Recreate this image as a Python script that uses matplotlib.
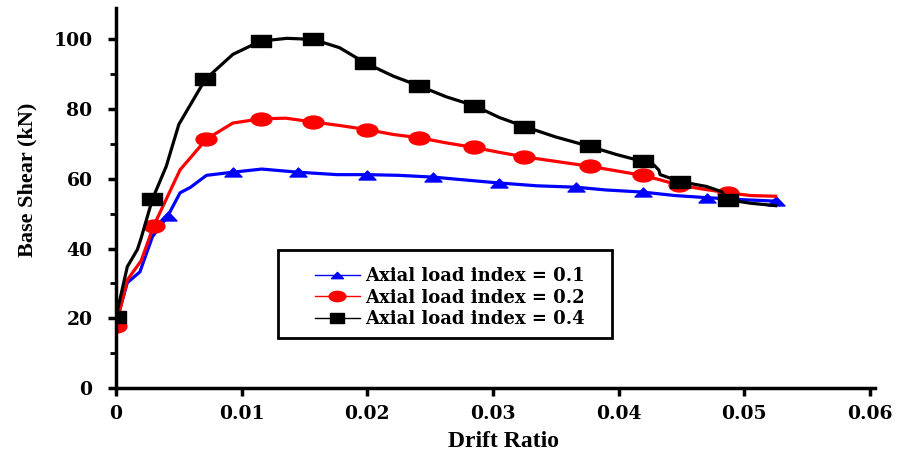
import matplotlib
matplotlib.use('Agg')
import matplotlib.pyplot as plt
from matplotlib.ticker import MultipleLocator
from matplotlib.patches import Rectangle
from matplotlib.path import Path

# axial load index = 0.1
x1 = [0, 0.0009, 0.0019, 0.0029, 0.0041, 0.0051, 0.0059, 0.0072, 0.0093, 0.0116,
      0.0145, 0.0176, 0.0200, 0.0225, 0.0252, 0.0280, 0.0305, 0.0335, 0.0366,
      0.0390, 0.0419, 0.0445, 0.0470, 0.0500, 0.0525]
y1 = [18.7, 30.2, 33.3, 43.4, 49.2, 56.0, 57.5, 61.0, 61.9, 62.8,
      61.9, 61.2, 61.2, 61.0, 60.5, 59.6, 58.8, 58.0, 57.6,
      56.8, 56.2, 55.2, 54.6, 54.0, 53.6]
m1 = [0, 4, 8, 10, 12, 14, 16, 18, 20, 22, 24]

# axial load index = 0.2
x2 = [0, 0.0009, 0.0020, 0.0030, 0.0051, 0.0072, 0.0093, 0.0115, 0.0135, 0.0157,
      0.0178, 0.0200, 0.0221, 0.0241, 0.0263, 0.0285, 0.0305, 0.0325, 0.0350,
      0.0377, 0.0398, 0.0419, 0.0432, 0.0448, 0.0468, 0.0487, 0.0505, 0.0525]
y2 = [17.8, 31.0, 36.5, 46.5, 62.6, 71.4, 76.0, 77.2, 77.4, 76.3,
      75.3, 74.1, 72.7, 71.8, 70.3, 69.0, 67.6, 66.3, 65.0,
      63.6, 62.3, 61.0, 59.8, 58.2, 57.0, 56.0, 55.2, 55.0]
m2 = [0, 3, 5, 7, 9, 11, 13, 15, 17, 19, 21, 23, 25]

# axial load index = 0.4
x3 = [0, 0.0009, 0.0017, 0.0020, 0.0029, 0.0040, 0.0050, 0.0071, 0.0093, 0.0115,
      0.0136, 0.0157, 0.0178, 0.0198, 0.0221, 0.0241, 0.0263, 0.0285, 0.0305,
      0.0325, 0.0350, 0.0377, 0.0398, 0.0419, 0.0428, 0.0432, 0.0433, 0.0449,
      0.0470, 0.0482, 0.0487, 0.0505, 0.0525]
y3 = [20.4, 34.8, 39.7, 43.0, 54.2, 63.6, 75.6, 88.5, 95.7, 99.5,
      100.3, 100.0, 97.6, 93.3, 89.4, 86.7, 83.5, 81.0, 77.6,
      75.0, 72.0, 69.3, 67.0, 65.0, 64.0, 62.5, 61.2, 59.2,
      57.8, 56.3, 54.0, 53.0, 52.3]
m3 = [0, 4, 7, 9, 11, 13, 15, 17, 19, 21, 23, 27, 30]

labels = ['Axial load index = 0.1', 'Axial load index = 0.2', 'Axial load index = 0.4']
xticks = [0, 0.01, 0.02, 0.03, 0.04, 0.05, 0.06]
xticklabels = ['0', '0.01', '0.02', '0.03', '0.04', '0.05', '0.06']

# markers in the original are squashed (wider than tall)
tri = Path([(-1, -0.53), (1, -0.53), (0, 0.53), (-1, -0.53)],
           [Path.MOVETO, Path.LINETO, Path.LINETO, Path.CLOSEPOLY])
circ = Path.unit_circle()
ell = Path(circ.vertices * [1, 0.62], circ.codes)
rect = Path([(-1, -0.66), (1, -0.66), (1, 0.66), (-1, 0.66), (-1, -0.66)],
            [Path.MOVETO, Path.LINETO, Path.LINETO, Path.LINETO, Path.CLOSEPOLY])

fig = plt.figure(figsize=(9.05, 4.57), dpi=100)
ax = fig.add_axes([116/905, 1-388/457, (875-116)/905, (388-8)/457])

ax.plot(x1, y1, color='blue', lw=2.3, marker=tri, ms=12.2, markevery=m1, label=labels[0])
ax.plot(x2, y2, color='red', lw=2.3, marker=ell, ms=15, markevery=m2, label=labels[1])
ax.plot(x3, y3, color='black', lw=2.3, marker=rect, ms=13.7, markevery=m3, label=labels[2])

ax.set_xlim(0, 0.0604)
ax.set_ylim(0, 109)
ax.set_xticks(xticks)
ax.set_xticklabels(xticklabels)
ax.yaxis.set_major_locator(MultipleLocator(20))
ax.yaxis.set_minor_locator(MultipleLocator(10))

ax.spines['top'].set_visible(False)
ax.spines['right'].set_visible(False)
ax.spines['left'].set_linewidth(2.5)
ax.spines['bottom'].set_linewidth(2.5)
ax.tick_params(axis='both', which='major', direction='out', length=6, width=2.5)
ax.tick_params(axis='y', which='major', pad=11)
ax.tick_params(axis='x', which='major', pad=6)
ax.tick_params(axis='y', which='minor', direction='out', length=4, width=2)

for t in ax.get_xticklabels() + ax.get_yticklabels():
    t.set_fontfamily('DejaVu Serif')
    t.set_fontweight('bold')
    t.set_fontsize(13.5)

ax.set_xlabel('Drift Ratio', fontfamily='Liberation Serif', fontweight='bold', fontsize=17)
ax.xaxis.set_label_coords(0.511, -0.112)
ax.set_ylabel('Base Shear (kN)', fontfamily='Liberation Serif', fontweight='bold', fontsize=16)
ax.yaxis.set_label_coords(-0.117, 0.547)
ax.yaxis.label.set_va('center')

# legend frame
ax.add_patch(Rectangle((0.2134, 0.1316), 0.440, 0.2316, transform=ax.transAxes,
                       fill=False, edgecolor='black', lw=2, zorder=5))

leg_handles = []
for c, mk, s in [('blue', tri, 8.6), ('red', ell, 12), ('black', rect, 10)]:
    h, = ax.plot([], [], color=c, lw=1, marker=mk, ms=s)
    leg_handles.append(h)
leg = ax.legend(leg_handles, labels, loc='upper left', bbox_to_anchor=(0.262, 0.318),
                borderaxespad=0, frameon=False, handlelength=2.5,
                prop={'family': 'DejaVu Serif', 'weight': 'bold', 'size': 13},
                borderpad=0, labelspacing=0.2, handletextpad=0.28)

fig.savefig('out.png', dpi=100)
